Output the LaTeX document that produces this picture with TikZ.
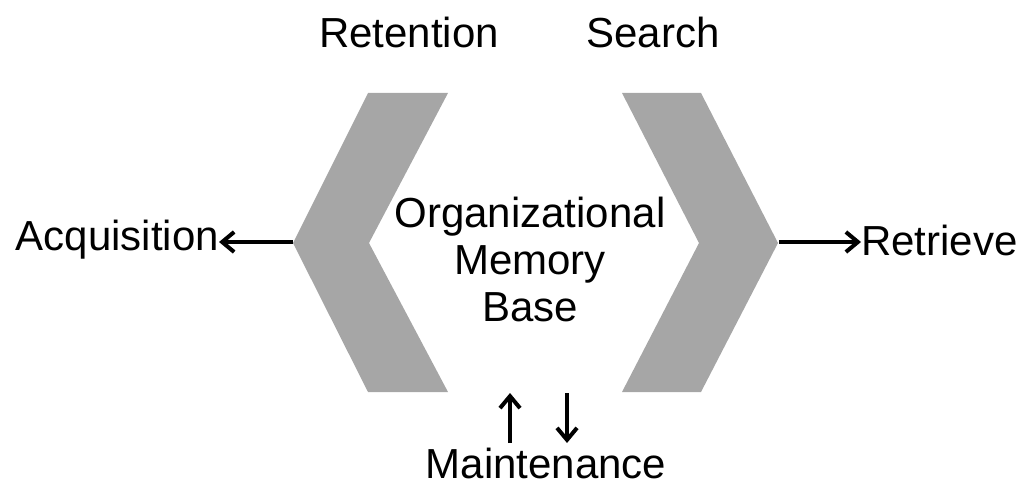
\documentclass[tikz,border=0pt]{standalone}
\usepackage{fontspec}
\setmainfont{Liberation Sans}
\usetikzlibrary{arrows.meta}
\definecolor{chev}{HTML}{A6A6A6}
\begin{document}
\begin{tikzpicture}[x=1pt,y=-1pt,
  lbl/.style={inner sep=0pt,font=\fontsize{42}{47}\selectfont},
  conn/.style={line width=4pt,-{Straight Barb[length=12pt,width=20pt,line width=4pt]}},
  chevfill/.style={fill=chev}]
\useasboundingbox (0,0) rectangle (1025,486);
% chevrons
\fill[chevfill] (368,93) -- (448,93) -- (369,243) -- (448,392) -- (368,392) -- (293,243) -- cycle;
\fill[chevfill] (622,93) -- (701,93) -- (778,243) -- (701,392) -- (622,392) -- (699,243) -- cycle;
\coordinate (ltip) at (293,242);
\coordinate (rtip) at (779,242);
% labels
\node[lbl] (ret) at (409,32) {Retention};
\node[lbl] (sea) at (653,32) {Search};
\node[lbl,align=center] (omb) at (530,259) {Organizational\\Memory\\Base};
\node[lbl,anchor=east] (acq) at (219,240) {Acquisition};
\node[lbl,anchor=west] (rtv) at (861,240) {Retrieve};
\node[lbl] (mnt) at (546,463) {Maintenance};
\coordinate (up1) at (510,443);
\coordinate (up2) at (510,393);
\coordinate (dn1) at (567,393);
\coordinate (dn2) at (567,443);
% connectors
\draw[conn] (ltip) -- (acq.east |- ltip);
\draw[conn] (rtip) -- (rtv.west |- rtip);
\draw[conn] (up1) -- (up2);
\draw[conn] (dn1) -- (dn2);
\end{tikzpicture}
\end{document}
